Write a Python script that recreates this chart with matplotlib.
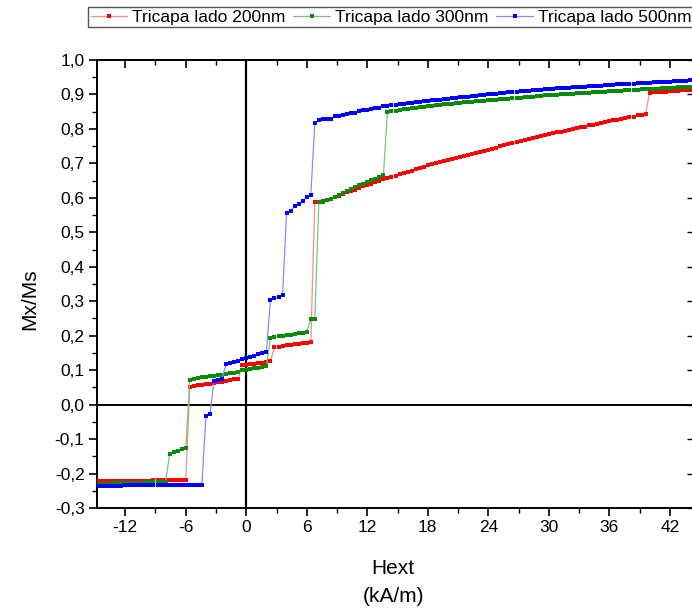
import matplotlib
matplotlib.use("Agg")
import matplotlib.pyplot as plt
from matplotlib.ticker import MultipleLocator, FuncFormatter

plt.rcParams["font.family"] = ["Liberation Sans", "DejaVu Sans"]
plt.rcParams["axes.unicode_minus"] = False

# Applied field (kA/m), one point per field step
field = [
    -14.8, -14.4, -14.0, -13.6, -13.2, -12.8, -12.4, -12.0, -11.6, -11.2,
    -10.8, -10.4, -10.0, -9.6, -9.2, -8.8, -8.4, -8.0, -7.6, -7.2,
    -6.8, -6.4, -6.0, -5.6, -5.2, -4.8, -4.4, -4.0, -3.6, -3.2,
    -2.8, -2.4, -2.0, -1.6, -1.2, -0.8, -0.4, 0.0, 0.4, 0.8,
    1.2, 1.6, 2.0, 2.4, 2.8, 3.2, 3.6, 4.0, 4.4, 4.8,
    5.2, 5.6, 6.0, 6.4, 6.8, 7.2, 7.6, 8.0, 8.4, 8.8,
    9.2, 9.6, 10.0, 10.4, 10.8, 11.2, 11.6, 12.0, 12.4, 12.8,
    13.2, 13.6, 14.0, 14.4, 14.8, 15.2, 15.6, 16.0, 16.4, 16.8,
    17.2, 17.6, 18.0, 18.4, 18.8, 19.2, 19.6, 20.0, 20.4, 20.8,
    21.2, 21.6, 22.0, 22.4, 22.8, 23.2, 23.6, 24.0, 24.4, 24.8,
    25.2, 25.6, 26.0, 26.4, 26.8, 27.2, 27.6, 28.0, 28.4, 28.8,
    29.2, 29.6, 30.0, 30.4, 30.8, 31.2, 31.6, 32.0, 32.4, 32.8,
    33.2, 33.6, 34.0, 34.4, 34.8, 35.2, 35.6, 36.0, 36.4, 36.8,
    37.2, 37.6, 38.0, 38.4, 38.8, 39.2, 39.6, 40.0, 40.4, 40.8,
    41.2, 41.6, 42.0, 42.4, 42.8, 43.2, 43.6, 44.0,
]

# Mx/Ms for the 200 nm trilayer
m_200 = [
    -0.223, -0.223, -0.223, -0.223, -0.222, -0.222, -0.222, -0.222, -0.222, -0.221,
    -0.221, -0.221, -0.221, -0.221, -0.220, -0.220, -0.220, -0.220, -0.220, -0.219,
    -0.219, -0.219, -0.219,
    0.052, 0.054, 0.056, 0.058, 0.060, 0.061, 0.063, 0.065, 0.067, 0.069,
    0.071, 0.073, 0.075,
    0.114, 0.116, 0.117, 0.119, 0.120, 0.122, 0.124, 0.126,
    0.167, 0.168, 0.170, 0.172, 0.173, 0.175, 0.177, 0.178, 0.180, 0.182,
    0.588, 0.588, 0.590, 0.594, 0.598, 0.602, 0.606, 0.611, 0.616, 0.620,
    0.624, 0.628, 0.633, 0.637, 0.641, 0.645, 0.650, 0.654, 0.657, 0.661,
    0.664, 0.668, 0.672, 0.676, 0.679, 0.683, 0.687, 0.690, 0.694, 0.697,
    0.700, 0.704, 0.707, 0.710, 0.713, 0.716, 0.719, 0.722, 0.725, 0.728,
    0.731, 0.734, 0.737, 0.740, 0.743, 0.746, 0.749, 0.752, 0.755, 0.758,
    0.761, 0.764, 0.767, 0.770, 0.773, 0.776, 0.779, 0.782, 0.785, 0.787,
    0.790, 0.792, 0.795, 0.797, 0.800, 0.802, 0.805, 0.807, 0.810, 0.812,
    0.815, 0.817, 0.820, 0.822, 0.825, 0.827, 0.829, 0.832, 0.834, 0.836,
    0.839, 0.841, 0.844,
    0.905, 0.906, 0.906, 0.907, 0.908, 0.909, 0.910, 0.911, 0.912, 0.913,
    0.914,
]

# Mx/Ms for the 300 nm trilayer
m_300 = [
    -0.229, -0.229, -0.229, -0.229, -0.228, -0.228, -0.228, -0.228, -0.227, -0.227,
    -0.227, -0.227, -0.226, -0.226, -0.226, -0.225, -0.225, -0.225,
    -0.143, -0.137, -0.136, -0.130, -0.127,
    0.072, 0.075, 0.077, 0.079, 0.080, 0.082, 0.083, 0.085, 0.087, 0.089,
    0.091, 0.093, 0.096, 0.099, 0.101, 0.103, 0.105, 0.107, 0.109, 0.111,
    0.194, 0.196, 0.198, 0.200, 0.201, 0.203, 0.205, 0.207, 0.209, 0.212,
    0.247, 0.249,
    0.588, 0.589, 0.593, 0.598, 0.603, 0.608, 0.613, 0.619, 0.626, 0.631,
    0.636, 0.641, 0.646, 0.651, 0.656, 0.661, 0.666,
    0.849, 0.851, 0.853, 0.855, 0.857, 0.858, 0.860, 0.861, 0.863, 0.864,
    0.866, 0.867, 0.868, 0.870, 0.871, 0.872, 0.873, 0.874, 0.875, 0.877,
    0.878, 0.879, 0.880, 0.881, 0.882, 0.883, 0.884, 0.885, 0.886, 0.887,
    0.888, 0.889, 0.890, 0.891, 0.892, 0.893, 0.894, 0.895, 0.896, 0.897,
    0.898, 0.899, 0.899, 0.900, 0.901, 0.902, 0.902, 0.903, 0.904, 0.905,
    0.905, 0.906, 0.907, 0.907, 0.908, 0.909, 0.910, 0.910, 0.911, 0.912,
    0.913, 0.913, 0.914, 0.915, 0.915, 0.916, 0.917, 0.917, 0.918, 0.919,
    0.919, 0.920, 0.921, 0.921, 0.922, 0.922,
]

# Mx/Ms for the 500 nm trilayer
m_500 = [
    -0.235, -0.235, -0.235, -0.235, -0.235, -0.235, -0.235, -0.234, -0.234, -0.234,
    -0.234, -0.234, -0.234, -0.234, -0.233, -0.233, -0.233, -0.233, -0.233, -0.233,
    -0.233, -0.232, -0.232, -0.232, -0.232, -0.232, -0.232,
    -0.033, -0.027,
    0.068, 0.071, 0.075,
    0.118, 0.121, 0.124, 0.128, 0.131, 0.135, 0.138, 0.142, 0.146, 0.149,
    0.153,
    0.305, 0.308, 0.313, 0.318,
    0.557, 0.561, 0.576, 0.581, 0.590, 0.603, 0.608,
    0.818, 0.825, 0.829, 0.829, 0.829, 0.837, 0.837, 0.839, 0.844, 0.847,
    0.847, 0.852, 0.854, 0.854, 0.857, 0.860, 0.861, 0.866, 0.866, 0.868,
    0.868, 0.871, 0.873, 0.875, 0.876, 0.878, 0.879,
    0.880, 0.881, 0.883, 0.884, 0.885, 0.887, 0.888, 0.889, 0.890, 0.892,
    0.893, 0.894, 0.895, 0.896, 0.898, 0.899, 0.900, 0.901, 0.902, 0.904,
    0.905, 0.906, 0.907, 0.908, 0.909, 0.910, 0.911, 0.912, 0.913, 0.914,
    0.915, 0.916,
    0.917, 0.918, 0.919, 0.919, 0.920, 0.921, 0.922, 0.922, 0.923, 0.924,
    0.925, 0.925, 0.926, 0.927, 0.927, 0.928, 0.929, 0.929, 0.930, 0.931,
    0.931, 0.932, 0.933, 0.933, 0.934, 0.935, 0.935, 0.936, 0.937, 0.937,
    0.938, 0.939, 0.939, 0.940, 0.941,
]

labels = ["Tricapa lado 200nm", "Tricapa lado 300nm", "Tricapa lado 500nm"]
marker_colors = ["#ff0000", "#0a8a0a", "#0000ff"]
line_colors = ["#ff8a8a", "#80c080", "#8a8aff"]

W, H = 692, 608
fig = plt.figure(figsize=(W / 100, H / 100), dpi=100)
ax = fig.add_axes([97 / W, 1 - 508 / H, 596 / W, 448 / H])

for lab, m, mc, lc in zip(labels, [m_200, m_300, m_500], marker_colors, line_colors):
    ax.plot(field, m, color=lc, lw=0.9, marker="s", ms=2.4,
            mfc=mc, mec=mc, mew=0, label=lab, zorder=3)

# zero lines through the origin
ax.axhline(0, color="black", lw=1.4, zorder=2)
ax.axvline(0, color="black", lw=1.6, zorder=2)

ax.set_xlim(-14.8, 44.3)
ax.set_ylim(-0.3, 1.0)

ax.xaxis.set_major_locator(MultipleLocator(6))
ax.xaxis.set_minor_locator(MultipleLocator(3))
ax.yaxis.set_major_locator(MultipleLocator(0.1))
ax.yaxis.set_minor_locator(MultipleLocator(0.05))


def comma_fmt(v, pos):
    if abs(v) < 1e-9:
        v = 0.0
    return f"{v:.1f}".replace(".", ",")


ax.yaxis.set_major_formatter(FuncFormatter(comma_fmt))
ax.xaxis.set_major_formatter(FuncFormatter(lambda v, p: f"{int(round(v))}"))

ax.tick_params(axis="both", which="major", direction="out", length=6, width=1.2,
               labelsize=12.5, colors="black", pad=3)
ax.tick_params(axis="both", which="minor", direction="out", length=3.5, width=1.0)
ax.tick_params(top=False, right=False)

for side in ["left", "bottom", "top", "right"]:
    ax.spines[side].set_linewidth(1.4)
    ax.spines[side].set_color("black")

# inward ticks on the top and right edges
top = ax.secondary_xaxis("top")
top.xaxis.set_major_locator(MultipleLocator(6))
top.xaxis.set_minor_locator(MultipleLocator(3))
top.tick_params(which="major", direction="in", length=6, width=1.2, labeltop=False)
top.tick_params(which="minor", direction="in", length=3.5, width=1.0)
top.spines["top"].set_linewidth(1.4)

right = ax.secondary_yaxis("right")
right.yaxis.set_major_locator(MultipleLocator(0.1))
right.yaxis.set_minor_locator(MultipleLocator(0.05))
right.tick_params(which="major", direction="in", length=4, width=1.0, labelright=False)
right.tick_params(which="minor", direction="in", length=0)

fig.text(30 / W, 1 - 299 / H, "Mx/Ms", rotation=90, ha="center", va="center",
         fontsize=15)
fig.text(393 / W, 1 - 568 / H, "Hext", ha="center", va="center", fontsize=15)
fig.text(393 / W, 1 - 597 / H, "(kA/m)", ha="center", va="center", fontsize=15)

leg = ax.legend(loc="upper left", bbox_to_anchor=(88 / W, 1 - 7 / H),
                bbox_transform=fig.transFigure, ncol=3, frameon=True,
                fancybox=False, edgecolor="#555555", framealpha=1,
                fontsize=12.5, handlelength=2.1, handletextpad=0.3,
                columnspacing=0.45, borderpad=0.15, borderaxespad=0,
                markerscale=1.0)
leg.get_frame().set_linewidth(1.0)

fig.savefig("out.png", dpi=100)
